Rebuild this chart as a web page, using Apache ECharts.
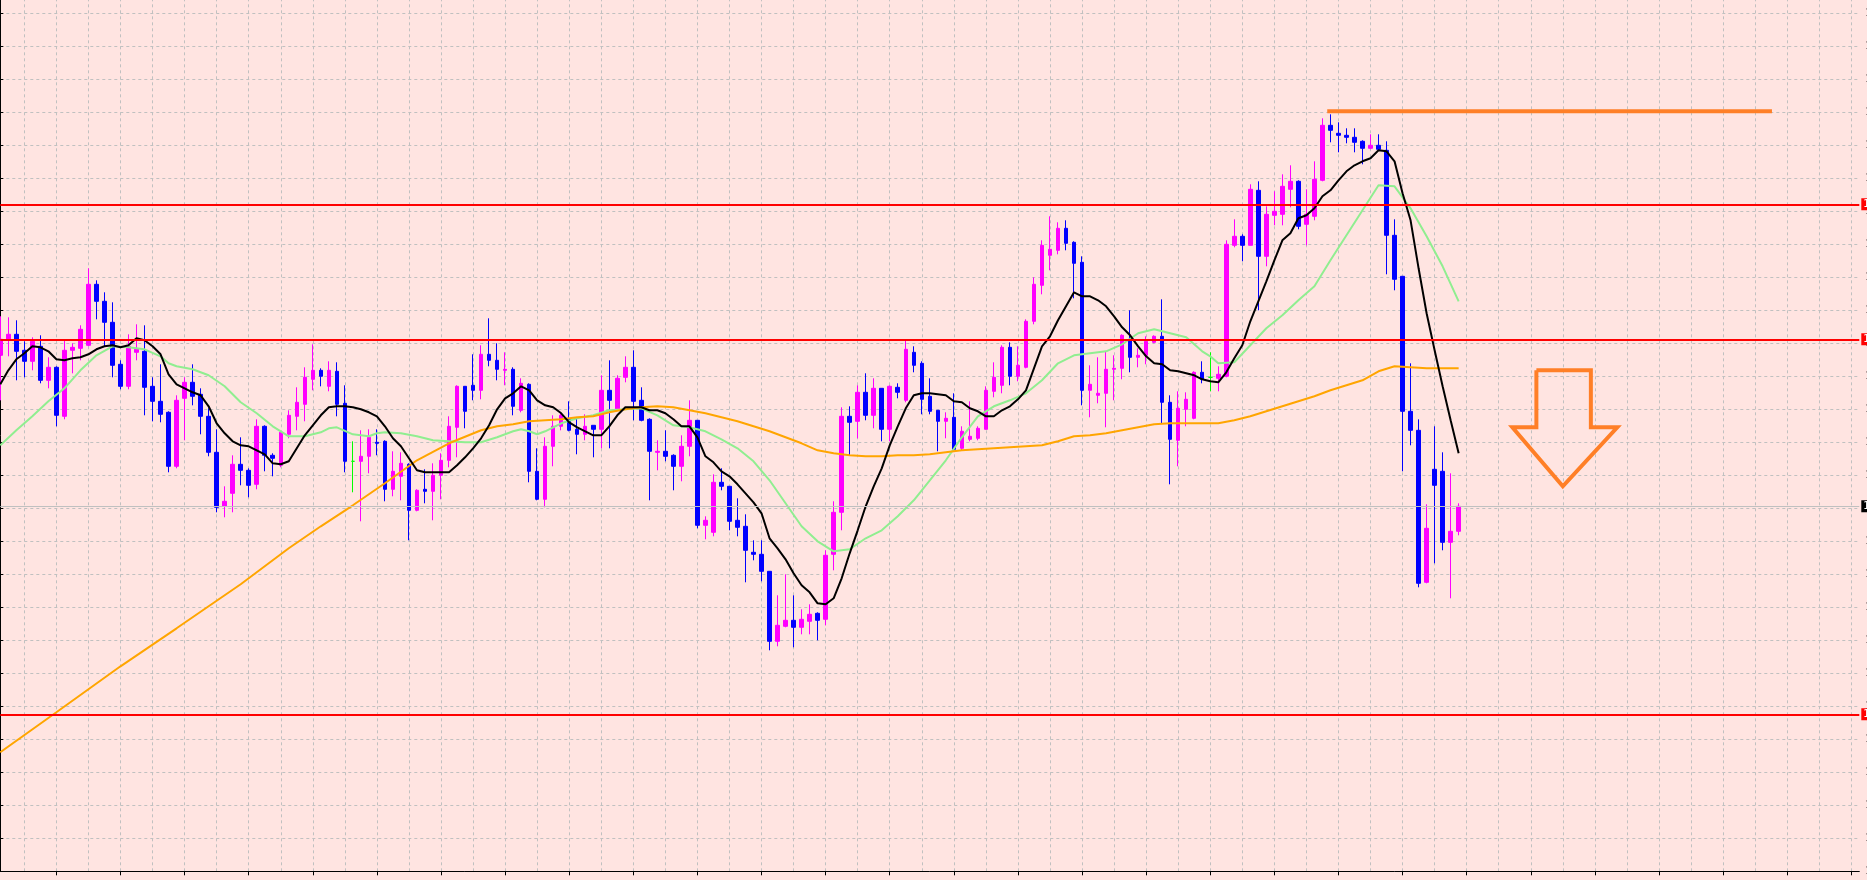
<!DOCTYPE html>
<html><head><meta charset="utf-8">
<script src="https://cdn.jsdelivr.net/npm/echarts@6/dist/echarts.min.js"></script>
<style>html,body{margin:0;padding:0;background:#FFE4E1;}#c{width:1867px;height:880px;}</style>
</head><body><div id="c"></div>
<script>
// price in points (33 points per grid step)
const opens  = [516,532,537,521,510,525,491,504,455,521,523,526,587,570,549,507,485,519,520,485,470,459,405,473,489,477,455,419,365,378,407,401,387,445,416,406,437,455,467,492,501,485,500,468,410,410,415,429,430,382,395,407,361,382,380,396,411,444,485,486,481,517,511,501,502,461,487,400,372,425,445,452,442,437,446,442,481,461,494,504,471,452,419,420,416,405,425,451,346,339,389,385,351,345,319,317,300,230,245,251,244,250,258,252,317,359,455,450,479,456,483,442,484,471,519,508,475,461,450,454,423,432,433,442,480,486,524,495,504,550,586,616,621,643,629,609,481,476,478,502,503,532,514,516,529,535,469,431,462,453,499,494,493,495,626,635,626,681,615,656,657,682,690,647,655,691,746,738,736,734,730,723,726,721,636,595,460,441,289,402,400,329,340];
const highs  = [555,554,551,530,534,536,514,505,531,528,546,603,591,579,569,511,537,547,546,494,507,460,476,494,507,483,463,442,385,416,434,403,452,446,418,440,461,484,504,527,503,510,509,486,430,441,442,442,431,420,419,408,382,402,408,418,455,486,485,517,526,553,528,519,504,493,488,423,434,456,459,470,453,457,446,496,511,496,515,521,484,453,431,441,417,436,471,451,355,397,403,385,373,357,331,331,300,276,297,276,262,267,259,321,370,464,465,486,498,493,483,486,488,531,525,510,493,461,459,478,445,470,445,485,509,526,529,525,552,594,631,655,649,651,630,615,506,514,520,516,537,561,523,535,536,572,476,480,479,500,510,519,505,631,652,637,687,690,665,680,697,706,691,682,710,753,757,749,743,743,731,737,737,730,652,595,508,452,367,445,419,398,368];
const lows   = [471,515,491,494,501,488,483,445,452,498,511,525,552,525,494,482,482,511,456,450,449,399,403,431,466,437,415,359,354,359,386,374,382,400,395,404,433,441,450,481,485,480,455,399,379,350,398,416,370,375,371,331,360,368,351,372,404,414,443,471,472,505,491,486,456,459,389,371,364,405,441,440,417,431,414,423,423,461,489,451,450,371,401,410,381,390,415,343,332,335,381,341,335,289,311,290,221,225,244,224,237,237,231,246,301,341,416,433,451,443,430,430,473,469,499,457,457,420,433,421,421,430,431,442,474,478,486,490,503,547,577,601,617,621,573,466,454,468,444,471,492,499,504,507,528,448,387,405,445,452,488,480,480,494,624,610,626,561,605,646,646,664,642,626,651,690,729,719,728,719,707,722,721,597,581,400,426,284,288,308,321,273,336];
const closes = [532,537,520,510,530,491,504,456,521,524,542,587,570,549,506,485,525,522,484,470,457,405,471,489,475,455,419,364,370,407,401,386,445,416,413,439,456,469,494,501,495,501,467,410,410,415,434,428,382,400,408,361,381,380,396,411,445,485,460,481,517,511,502,502,465,488,400,372,425,445,456,441,437,445,442,481,471,493,504,470,451,420,420,415,405,425,451,346,351,389,385,350,344,321,317,300,230,246,251,244,252,257,251,316,359,455,449,479,456,483,442,485,479,522,506,472,460,450,453,422,440,435,443,481,494,524,495,506,550,587,626,622,643,628,608,481,487,478,502,503,536,514,516,530,535,469,432,463,472,499,492,494,497,627,635,626,682,615,657,660,685,690,645,657,692,746,741,736,734,729,723,726,722,636,592,460,441,288,343,386,329,340,365];

// moving averages
const blackMA = [487,501,512,518,525,524,520,512,511,513,514,517,522,525,526,524,526,533,531,525,517,497,487,483,479,476,465,448,438,430,426,425,421,417,408,407,410,423,436,446,456,464,465,465,464,462,459,455,445,433,425,413,401,399,399,399,399,406,414,423,433,446,462,473,478,485,481,471,466,464,458,449,444,440,436,436,445,456,464,464,464,461,461,458,452,445,445,434,415,409,400,395,387,378,369,358,333,323,312,298,286,279,268,267,273,293,318,341,365,385,403,426,445,463,476,478,478,477,476,470,469,463,460,455,455,461,465,472,481,503,525,535,551,565,579,575,575,571,565,555,544,536,525,515,508,507,501,500,498,496,492,490,489,499,513,526,550,570,590,611,631,638,653,656,663,675,681,691,700,706,710,713,721,720,710,678,651,603,558,521,485,451,418];
const greenIdx = [0,2,4,6,8,10,12,14,16,18,20,21,22,24,26,28,30,32,34,36,38,40,41,42,44,46,47,48,50,52,54,56,58,60,62,64,65,66,67,68,70,72,74,76,78,80,82,84,86,87,88,90,92,94,96,98,100,102,104,106,108,110,112,114,116,118,120,122,124,126,128,130,132,134,136,138,140,142,144,146,148,150,151,152,154,156,158,160,162,164,166,168,170,172,174,176,178,180,182];
const greenVal = [426,441,455,470,483,501,516,525,524,522,515,508,505,502,496,485,469,458,445,435,435,439,443,444,437,435,438,439,438,435,431,430,429,429,434,440,442,440,437,440,448,453,456,461,462,463,456,446,444,442,440,432,423,410,391,368,345,330,320,322,333,341,355,371,391,411,434,455,465,471,478,491,508,516,518,520,527,538,542,538,534,520,515,508,509,526,543,556,571,585,611,636,661,686,685,663,635,605,570];
const orangeIdx = [0,7,15,22,30,36,40,44,48,52,56,60,62,64,66,68,70,72,74,76,78,80,82,84,86,88,90,92,94,96,98,100,102,104,106,108,110,112,114,116,118,120,122,124,126,128,130,132,134,136,138,140,142,144,146,148,150,152,154,156,158,160,162,164,166,168,170,172,174,176,178,180,182];
const orangeVal = [119,159,205,243,287,323,345,366,388,411,428,441,445,447,450,451,452,454,455,459,462,464,465,464,461,458,454,450,445,440,434,428,421,418,416,415,415,416,416,417,419,421,422,423,424,425,426,430,435,436,438,441,444,447,448,448,448,448,451,455,460,465,470,475,481,486,491,500,505,504,503,503,503];

// horizontal levels
const redLevels = [667, 532, 157];
const lastPrice = 365;
const resistanceIdx = [165.6, 221.1];
const resistanceVal = [760, 760];
// arrow outline (index, points)
const arrowIdx = [191.7,198.5,198.5,201.8,195.0,188.7,191.7,191.7];
const arrowVal = [501,501,444,444,385,444,444,501];
// vertical grid positions (bar index)
const vGrid = [];
for (let i = 3; i < 233; i += 4) vGrid.push(i);

const N = 233;
const cats = Array.from({length: N}, (_, i) => String(i));
const fmt = v => (1.2 + v / 3300).toFixed(4);

const chart = echarts.init(document.getElementById('c'), null, {renderer: 'canvas'});
const pairs = (a, b) => a.map((x, i) => [x, b[i]]);
const lvlLabel = (bg) => ({show: true, position: 'end', distance: 2, formatter: p => fmt(p.value),
  backgroundColor: bg, color: '#fff', fontSize: 10, padding: [1, 2], fontFamily: 'DejaVu Sans'});
const gridLine = {color: '#c0c0c0', type: [3, 3], width: 1};

chart.setOption({
  animation: false,
  backgroundColor: '#FFE4E1',
  grid: {left: 0.3, right: 7.7, top: -19.7, bottom: 8.7, containLabel: false, outerBoundsMode: 'none'},
  xAxis: [{
    type: 'category', data: cats, boundaryGap: false, offset: 3,
    axisLine: {show: true, lineStyle: {color: '#000', width: 1}},
    axisTick: {show: true, length: 4, interval: (i) => i % 8 === 7, lineStyle: {color: '#000'}},
    axisLabel: {show: false},
    splitLine: {show: false}
  }, {
    type: 'value', min: 0, max: N - 1, show: true,
    axisLine: {show: false},
    axisTick: {show: false, customValues: vGrid},
    axisLabel: {show: false, customValues: vGrid},
    splitLine: {show: true, lineStyle: gridLine}
  }],
  yAxis: [{
    type: 'value', position: 'right', min: 0, max: 891, interval: 33,
    axisLine: {show: true, lineStyle: {color: '#000', width: 1}},
    axisTick: {show: true, length: 3, lineStyle: {color: '#000'}},
    axisLabel: {show: true, margin: 6, fontSize: 11, color: '#000', formatter: fmt, fontFamily: 'DejaVu Sans'},
    splitLine: {show: true, lineStyle: gridLine}
  }],
  series: [{
    type: 'candlestick', xAxisIndex: 0, yAxisIndex: 0, barWidth: 4,
    data: opens.map((o, i) => [o, closes[i], lows[i], highs[i]]),
    itemStyle: {color: '#FF00FF', color0: '#0000FF', borderColor: '#FF00FF', borderColor0: '#0000FF',
      borderColorDoji: '#00FF00', borderWidth: 1},
    markLine: {
      silent: true, symbol: ['none', 'none'], animation: false,
      data: [
        ...redLevels.map(v => ({yAxis: v, lineStyle: {color: '#FF0000', width: 2, type: 'solid'}, label: lvlLabel('#FF0000')})),
        {yAxis: lastPrice, lineStyle: {color: '#C0C0C0', width: 1, type: 'solid'}, label: lvlLabel('#000')}
      ]
    }
  }, {
    type: 'line', xAxisIndex: 0, data: blackMA, symbol: 'none', z: 4,
    lineStyle: {color: '#000', width: 2}
  }, {
    type: 'line', xAxisIndex: 1, data: pairs(greenIdx, greenVal), symbol: 'none', z: 3,
    lineStyle: {color: '#90EE90', width: 2}
  }, {
    type: 'line', xAxisIndex: 1, data: pairs(orangeIdx, orangeVal), symbol: 'none', z: 3,
    lineStyle: {color: '#FFA500', width: 2}
  }, {
    type: 'line', xAxisIndex: 1, data: pairs(resistanceIdx, resistanceVal), symbol: 'none', z: 6,
    lineStyle: {color: '#FF7F27', width: 4}
  }, {
    type: 'line', xAxisIndex: 1, data: pairs(arrowIdx, arrowVal), symbol: 'none', z: 6,
    lineStyle: {color: '#FF7F27', width: 4, join: 'miter'}
  }]
});
</script></body></html>
